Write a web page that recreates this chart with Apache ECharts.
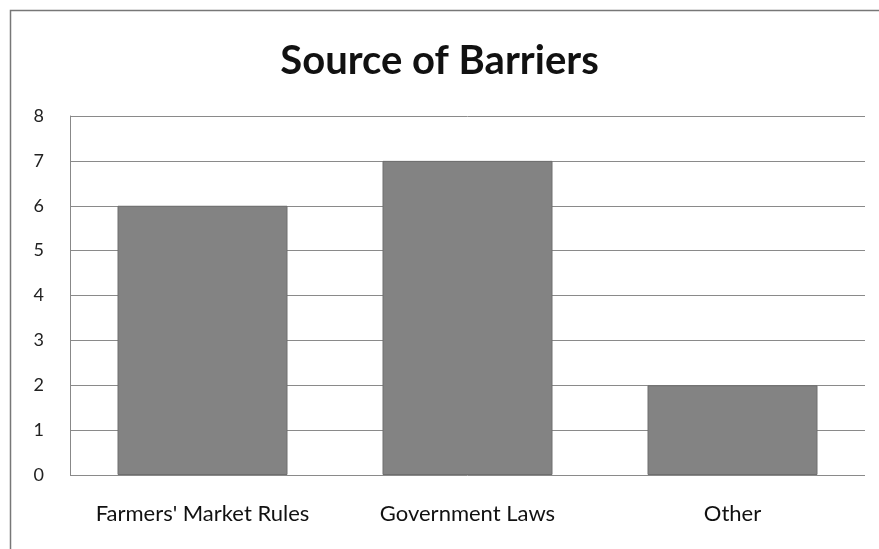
<!DOCTYPE html>
<html><head><meta charset="utf-8">
<script src="https://cdn.jsdelivr.net/npm/echarts@6/dist/echarts.min.js"></script>
<style>html,body{margin:0;padding:0;background:#fff}#c{width:879px;height:549px}</style>
</head><body><div id="c"></div>
<script>
const categories = ["Farmers' Market Rules", "Government Laws", "Other"];
const values = [6, 7, 2];
const yTicks = [0, 1, 2, 3, 4, 5, 6, 7, 8];

const chart = echarts.init(document.getElementById('c'), null, {renderer: 'canvas'});
chart.setOption({
  backgroundColor: '#fff',
  animation: false,
  title: {
    text: 'Source of Barriers', left: 'center', top: 36,
    textStyle: {fontFamily: 'Lato, "Open Sans", sans-serif', fontSize: 40, fontWeight: 'bold', color: '#111'}
  },
  graphic: [{
    type: 'rect', shape: {x: 10.5, y: 10.5, width: 880, height: 560},
    style: {fill: 'none', stroke: '#777', lineWidth: 1.5}, silent: true, z: -1
  }],
  grid: {left: 70, right: 14, top: 116, bottom: 74, containLabel: false},
  xAxis: {
    type: 'category', data: categories,
    axisLine: {show: false}, axisTick: {show: false},
    axisLabel: {interval: 0, hideOverlap: false, fontFamily: 'Lato, "Open Sans", sans-serif', fontSize: 22, color: '#111', margin: 28}
  },
  yAxis: {
    type: 'value', min: yTicks[0], max: yTicks[yTicks.length - 1], interval: 1,
    axisLine: {show: true, lineStyle: {color: '#888', width: 1}},
    axisTick: {show: false},
    splitLine: {lineStyle: {color: '#8a8a8a', width: 1}},
    axisLabel: {fontFamily: 'Lato, "Open Sans", sans-serif', fontSize: 18, color: '#222', margin: 26,
      formatter: v => yTicks.includes(v) ? String(v) : ''}
  },
  series: [{
    type: 'bar', data: values, barWidth: 170,
    itemStyle: {color: '#838383', borderColor: '#6e6e6e', borderWidth: 1}
  }]
});
</script></body></html>
